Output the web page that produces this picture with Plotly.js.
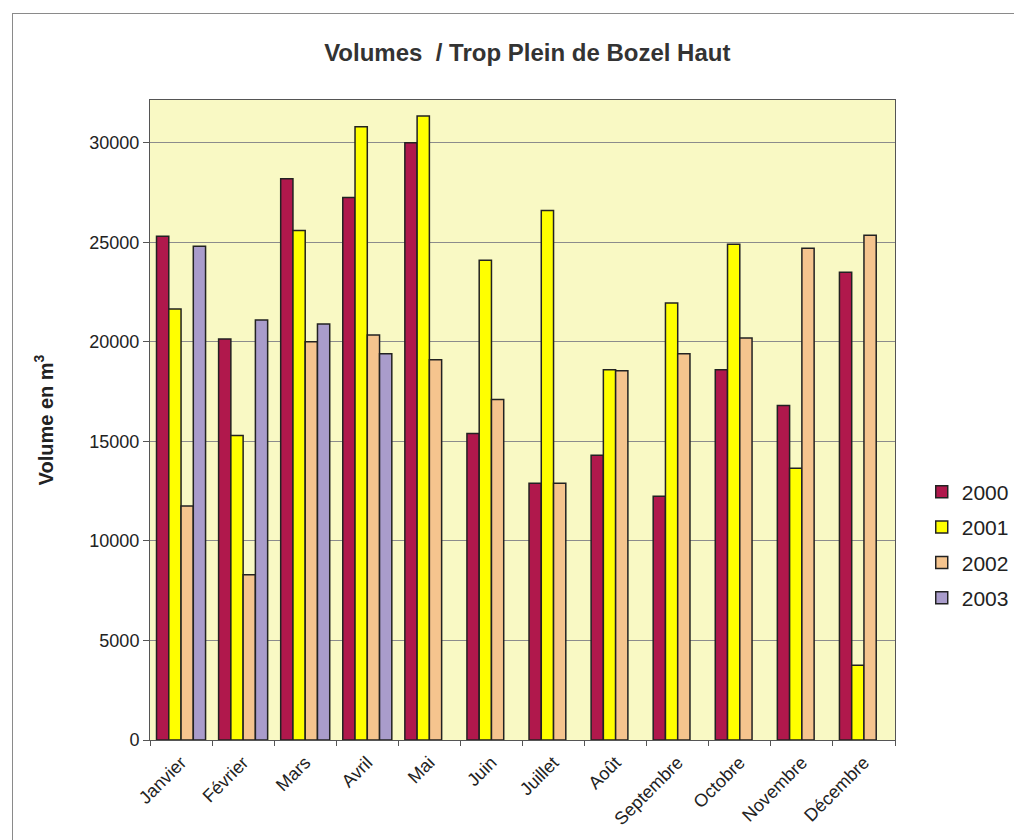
<!DOCTYPE html>
<html>
<head>
<meta charset="utf-8">
<script src="https://cdn.plot.ly/plotly-3.0.1.min.js"></script>
<style>
  html, body { margin: 0; padding: 0; background: #ffffff; }
  #frame { position: absolute; left: 12px; top: 13px; width: 1010px; height: 840px; border-top: 1px solid #8a8a8a; border-left: 1px solid #8a8a8a; pointer-events: none; z-index: 5; }
  #chart { width: 1014px; height: 840px; }
</style>
</head>
<body>
<div id="frame"></div>
<div id="chart"></div>
<script>
const months = ["Janvier", "Février", "Mars", "Avril", "Mai", "Juin", "Juillet", "Août", "Septembre", "Octobre", "Novembre", "Décembre"];
const v2000 = [25300, 20150, 28200, 27250, 30000, 15400, 12900, 14300, 12250, 18600, 16800, 23500];
const v2001 = [21650, 15300, 25600, 30800, 31350, 24100, 26600, 18600, 21950, 24900, 13650, 3750];
const v2002 = [11750, 8300, 20000, 20350, 19100, 17100, 12900, 18550, 19400, 20200, 24700, 25350];
const v2003 = [24800, 21100, 20900, 19400, null, null, null, null, null, null, null, null];
const seriesNames = ["2000", "2001", "2002", "2003"];
const seriesColors = ["#B0184C", "#FFFF00", "#F5C48E", "#A99CCB"];
const seriesValues = [v2000, v2001, v2002, v2003];

const traces = seriesValues.map((vals, i) => ({
  type: "bar",
  name: seriesNames[i],
  legendgroup: "g" + i,
  x: months,
  y: vals,
  marker: { color: seriesColors[i], line: { color: "#222222", width: 1.5 } },
  hoverinfo: "x+y+name"
}));

const layout = {
  width: 1014,
  height: 840,
  paper_bgcolor: "rgba(0,0,0,0)",
  plot_bgcolor: "#F9F9C4",
  margin: { l: 150, r: 119, t: 100, b: 100 },
  font: { family: "Liberation Sans, Arial, sans-serif", color: "#222222" },
  title: {
    text: "<b>Volumes  / Trop Plein de Bozel Haut</b>",
    font: { size: 24, color: "#333333" },
    x: 0.52, xanchor: "center",
    y: 0.937, yanchor: "middle"
  },
  barmode: "group",
  bargap: 0.21,
  bargroupgap: 0,
  showlegend: true,
  legend: {
    xref: "container", yref: "container",
    x: 0.909, xanchor: "left",
    y: 0.351, yanchor: "middle",
    font: { size: 21, color: "#222222" },
    bgcolor: "rgba(0,0,0,0)",
    itemwidth: 30,
    tracegroupgap: 5
  },
  xaxis: {
    type: "category",
    tickangle: -45,
    tickfont: { size: 18, color: "#222222" },
    ticklabelstandoff: 4,
    ticks: "outside",
    tickson: "boundaries",
    ticklen: 5,
    tickcolor: "#555555",
    showline: true,
    linecolor: "#555555",
    linewidth: 1,
    mirror: true,
    showgrid: false,
    fixedrange: true,
    automargin: false
  },
  yaxis: {
    range: [0, 32150],
    tickvals: [0, 5000, 10000, 15000, 20000, 25000, 30000],
    ticktext: ["0", "5000", "10000", "15000", "20000", "25000", "30000"],
    tickfont: { size: 18, color: "#222222" },
    ticks: "outside",
    ticklen: 6,
    tickcolor: "#555555",
    showline: true,
    linecolor: "#555555",
    linewidth: 1,
    mirror: true,
    showgrid: true,
    gridcolor: "#8c8c8c",
    gridwidth: 1,
    zeroline: false,
    fixedrange: true,
    automargin: false,
    title: {
      text: "<b>Volume en m<sup>3</sup></b>",
      font: { size: 20, color: "#222222" },
      standoff: 30
    }
  }
};

Plotly.newPlot("chart", traces, layout, { displayModeBar: false });
</script>
</body>
</html>
